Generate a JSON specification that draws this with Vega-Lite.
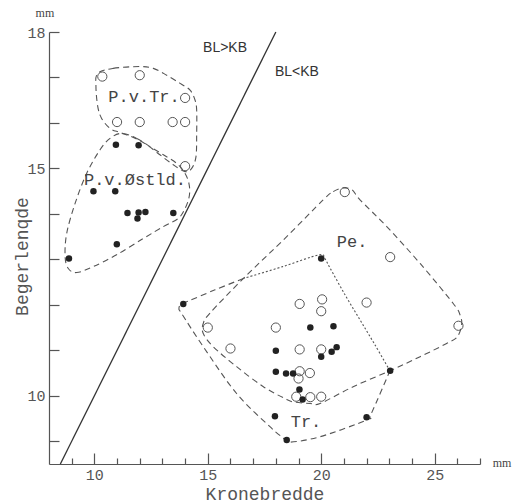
{
  "$schema": "https://vega.github.io/schema/vega-lite/v6.json",
  "width": 431,
  "height": 432,
  "autosize": "none",
  "padding": {"left": 49, "top": 32, "right": 45, "bottom": 39},
  "background": "white",
  "config": {"view": {"stroke": null}},
  "datasets": {
    "pts": [
      {"x": 10.35, "y": 17.02, "g": "open"}, {"x": 12.0, "y": 17.05, "g": "open"}, {"x": 14.0, "y": 16.55, "g": "open"},
      {"x": 11.0, "y": 16.02, "g": "open"}, {"x": 12.0, "y": 16.02, "g": "open"}, {"x": 13.45, "y": 16.02, "g": "open"},
      {"x": 14.0, "y": 16.02, "g": "open"}, {"x": 14.0, "y": 15.05, "g": "open"},
      {"x": 15.0, "y": 11.5, "g": "open"}, {"x": 16.0, "y": 11.04, "g": "open"}, {"x": 21.04, "y": 14.48, "g": "open"},
      {"x": 23.04, "y": 13.05, "g": "open"}, {"x": 19.05, "y": 12.02, "g": "open"}, {"x": 20.04, "y": 12.12, "g": "open"},
      {"x": 20.0, "y": 11.86, "g": "open"}, {"x": 22.0, "y": 12.05, "g": "open"}, {"x": 18.0, "y": 11.5, "g": "open"},
      {"x": 26.05, "y": 11.54, "g": "open"}, {"x": 19.05, "y": 11.02, "g": "open"}, {"x": 20.0, "y": 11.02, "g": "open"},
      {"x": 19.05, "y": 10.54, "g": "open"}, {"x": 19.0, "y": 10.38, "g": "open"}, {"x": 19.5, "y": 10.5, "g": "open"},
      {"x": 18.9, "y": 9.98, "g": "open"}, {"x": 19.52, "y": 9.97, "g": "open"}, {"x": 20.0, "y": 9.98, "g": "open"},
      {"x": 10.95, "y": 15.52, "g": "filled"}, {"x": 11.95, "y": 15.51, "g": "filled"}, {"x": 9.96, "y": 14.5, "g": "filled"},
      {"x": 10.92, "y": 14.5, "g": "filled"}, {"x": 11.46, "y": 14.02, "g": "filled"}, {"x": 11.9, "y": 13.9, "g": "filled"},
      {"x": 11.95, "y": 14.03, "g": "filled"}, {"x": 12.25, "y": 14.04, "g": "filled"}, {"x": 13.48, "y": 14.02, "g": "filled"},
      {"x": 10.99, "y": 13.33, "g": "filled"}, {"x": 8.88, "y": 13.02, "g": "filled"}, {"x": 13.92, "y": 12.02, "g": "filled"},
      {"x": 20.0, "y": 13.02, "g": "filled"}, {"x": 19.52, "y": 11.5, "g": "filled"}, {"x": 20.54, "y": 11.53, "g": "filled"},
      {"x": 18.0, "y": 10.99, "g": "filled"}, {"x": 20.0, "y": 10.86, "g": "filled"}, {"x": 20.46, "y": 10.97, "g": "filled"},
      {"x": 20.68, "y": 11.07, "g": "filled"}, {"x": 18.0, "y": 10.53, "g": "filled"}, {"x": 18.45, "y": 10.49, "g": "filled"},
      {"x": 18.76, "y": 10.49, "g": "filled"}, {"x": 23.04, "y": 10.55, "g": "filled"}, {"x": 19.04, "y": 10.14, "g": "filled"},
      {"x": 19.18, "y": 9.92, "g": "filled"}, {"x": 17.96, "y": 9.55, "g": "filled"}, {"x": 22.0, "y": 9.53, "g": "filled"},
      {"x": 18.48, "y": 9.03, "g": "filled"}
    ],
    "closed": [
      {"c": "ptr", "i": 0, "x": 10.15, "y": 17.09}, {"c": "ptr", "i": 1, "x": 10.83, "y": 17.2}, {"c": "ptr", "i": 2, "x": 12.01, "y": 17.24},
      {"c": "ptr", "i": 3, "x": 12.6, "y": 17.2}, {"c": "ptr", "i": 4, "x": 13.19, "y": 17.05}, {"c": "ptr", "i": 5, "x": 13.78, "y": 16.87},
      {"c": "ptr", "i": 6, "x": 14.22, "y": 16.72}, {"c": "ptr", "i": 7, "x": 14.44, "y": 16.5}, {"c": "ptr", "i": 8, "x": 14.51, "y": 16.28},
      {"c": "ptr", "i": 9, "x": 14.51, "y": 15.77}, {"c": "ptr", "i": 10, "x": 14.48, "y": 15.26}, {"c": "ptr", "i": 11, "x": 14.29, "y": 15.0},
      {"c": "ptr", "i": 12, "x": 14.0, "y": 14.93}, {"c": "ptr", "i": 13, "x": 13.48, "y": 15.08}, {"c": "ptr", "i": 14, "x": 12.89, "y": 15.3},
      {"c": "ptr", "i": 15, "x": 12.31, "y": 15.52}, {"c": "ptr", "i": 16, "x": 11.72, "y": 15.68}, {"c": "ptr", "i": 17, "x": 11.13, "y": 15.79},
      {"c": "ptr", "i": 18, "x": 10.69, "y": 15.88}, {"c": "ptr", "i": 19, "x": 10.32, "y": 16.1}, {"c": "ptr", "i": 20, "x": 10.15, "y": 16.36},
      {"c": "ptr", "i": 21, "x": 10.07, "y": 16.8},
      {"c": "ost", "i": 0, "x": 11.2, "y": 15.77}, {"c": "ost", "i": 1, "x": 11.87, "y": 15.66}, {"c": "ost", "i": 2, "x": 12.45, "y": 15.48},
      {"c": "ost", "i": 3, "x": 13.04, "y": 15.3}, {"c": "ost", "i": 4, "x": 13.63, "y": 15.11}, {"c": "ost", "i": 5, "x": 14.0, "y": 14.89},
      {"c": "ost", "i": 6, "x": 14.18, "y": 14.64}, {"c": "ost", "i": 7, "x": 14.18, "y": 14.38}, {"c": "ost", "i": 8, "x": 14.0, "y": 14.12},
      {"c": "ost", "i": 9, "x": 13.7, "y": 13.9}, {"c": "ost", "i": 10, "x": 13.04, "y": 13.72}, {"c": "ost", "i": 11, "x": 12.16, "y": 13.46},
      {"c": "ost", "i": 12, "x": 10.98, "y": 13.1}, {"c": "ost", "i": 13, "x": 9.95, "y": 12.84}, {"c": "ost", "i": 14, "x": 9.22, "y": 12.71},
      {"c": "ost", "i": 15, "x": 8.85, "y": 12.8}, {"c": "ost", "i": 16, "x": 8.71, "y": 13.06}, {"c": "ost", "i": 17, "x": 8.78, "y": 13.57},
      {"c": "ost", "i": 18, "x": 9.15, "y": 14.23}, {"c": "ost", "i": 19, "x": 9.66, "y": 14.89}, {"c": "ost", "i": 20, "x": 10.25, "y": 15.41},
      {"c": "ost", "i": 21, "x": 10.69, "y": 15.66},
      {"c": "pe", "i": 0, "x": 20.09, "y": 14.31}, {"c": "pe", "i": 1, "x": 20.53, "y": 14.49}, {"c": "pe", "i": 2, "x": 20.96, "y": 14.57},
      {"c": "pe", "i": 3, "x": 21.36, "y": 14.53}, {"c": "pe", "i": 4, "x": 21.71, "y": 14.31}, {"c": "pe", "i": 5, "x": 22.89, "y": 13.72},
      {"c": "pe", "i": 6, "x": 24.36, "y": 12.91}, {"c": "pe", "i": 7, "x": 25.82, "y": 12.03}, {"c": "pe", "i": 8, "x": 26.12, "y": 11.78},
      {"c": "pe", "i": 9, "x": 26.19, "y": 11.56}, {"c": "pe", "i": 10, "x": 25.99, "y": 11.29}, {"c": "pe", "i": 11, "x": 25.53, "y": 11.15},
      {"c": "pe", "i": 12, "x": 24.36, "y": 10.86}, {"c": "pe", "i": 13, "x": 23.03, "y": 10.55}, {"c": "pe", "i": 14, "x": 21.41, "y": 10.2},
      {"c": "pe", "i": 15, "x": 19.95, "y": 9.83}, {"c": "pe", "i": 16, "x": 19.51, "y": 9.83}, {"c": "pe", "i": 17, "x": 18.84, "y": 9.86},
      {"c": "pe", "i": 18, "x": 18.48, "y": 9.92}, {"c": "pe", "i": 19, "x": 17.45, "y": 10.2}, {"c": "pe", "i": 20, "x": 16.27, "y": 10.64},
      {"c": "pe", "i": 21, "x": 15.24, "y": 11.08}, {"c": "pe", "i": 22, "x": 14.8, "y": 11.37}, {"c": "pe", "i": 23, "x": 14.8, "y": 11.59},
      {"c": "pe", "i": 24, "x": 15.1, "y": 11.82}, {"c": "pe", "i": 25, "x": 16.57, "y": 12.58}, {"c": "pe", "i": 26, "x": 18.48, "y": 13.5}
    ],
    "trdash": [
      {"i": 0, "x": 16.57, "y": 12.58}, {"i": 1, "x": 15.32, "y": 12.33}, {"i": 2, "x": 14.13, "y": 12.08},
      {"i": 3, "x": 13.82, "y": 12.02}, {"i": 4, "x": 13.73, "y": 11.91}, {"i": 5, "x": 13.86, "y": 11.8},
      {"i": 6, "x": 14.8, "y": 11.08}, {"i": 7, "x": 16.27, "y": 10.05}, {"i": 8, "x": 17.74, "y": 9.32},
      {"i": 9, "x": 18.33, "y": 9.07}, {"i": 10, "x": 18.58, "y": 8.98}, {"i": 11, "x": 19.95, "y": 9.1},
      {"i": 12, "x": 22.01, "y": 9.47}, {"i": 13, "x": 22.2, "y": 9.6}, {"i": 14, "x": 23.03, "y": 10.55}
    ],
    "trdot": [
      {"i": 0, "x": 23.03, "y": 10.55}, {"i": 1, "x": 22.37, "y": 11.12}, {"i": 2, "x": 21.71, "y": 11.67},
      {"i": 3, "x": 21.05, "y": 12.22}, {"i": 4, "x": 20.39, "y": 12.81}, {"i": 5, "x": 20.15, "y": 13.02},
      {"i": 6, "x": 19.9, "y": 13.1}, {"i": 7, "x": 18.3, "y": 12.84}, {"i": 8, "x": 16.57, "y": 12.58}
    ],
    "diag": [{"i": 0, "x": 8.5, "y": 8.5}, {"i": 1, "x": 18, "y": 18}],
    "mono": [
      {"x": 12.19, "y": 16.57, "t": "P.v.Tr."}, {"x": 11.79, "y": 14.75, "t": "P.v.Østld."},
      {"x": 21.36, "y": 13.38, "t": "Pe."}, {"x": 19.33, "y": 9.42, "t": "Tr."}
    ],
    "sans": [{"x": 15.76, "y": 17.65, "t": "BL>KB"}, {"x": 18.93, "y": 17.12, "t": "BL<KB"}],
    "serif": [{"x": 7.82, "y": 18.42, "t": "mm"}, {"x": 27.97, "y": 8.52, "t": "mm"}]
  },
  "encoding": {
    "x": {
      "field": "x", "type": "quantitative",
      "scale": {"domain": [8, 27], "nice": false, "zero": false},
      "axis": {
        "title": "Kronebredde",
        "values": [9, 10, 11, 12, 13, 14, 15, 16, 17, 18, 19, 20, 21, 22, 23, 24, 25, 26, 27],
        "labelExpr": "datum.value % 5 === 0 ? datum.label : ''",
        "tickSize": {"condition": {"test": "datum.value % 5 === 0", "value": -11}, "value": -6},
        "labelPadding": 14,
        "labelFlush": false, "labelOverlap": false,
        "labelFont": "Liberation Mono", "labelFontSize": 15, "labelColor": "#555",
        "domainColor": "#555", "tickColor": "#555", "domainWidth": 1.2, "tickWidth": 1.2, "grid": false,
        "titleFont": "Liberation Mono", "titleFontSize": 18, "titleFontWeight": "normal", "titleColor": "#555",
        "titleY": 30, "titleBaseline": "middle"
      }
    },
    "y": {
      "field": "y", "type": "quantitative",
      "scale": {"domain": [8.5, 18], "nice": false, "zero": false},
      "axis": {
        "title": "Begerlenqde",
        "values": [9, 10, 11, 12, 13, 14, 15, 16, 17, 18],
        "labelExpr": "(datum.value === 10 || datum.value === 15 || datum.value === 18) ? datum.label : ''",
        "tickSize": -10,
        "labelPadding": 14,
        "labelFlush": false, "labelOverlap": false,
        "labelFont": "Liberation Mono", "labelFontSize": 15, "labelColor": "#555",
        "domainColor": "#555", "tickColor": "#555", "domainWidth": 1.2, "tickWidth": 1.2, "grid": false,
        "titleFont": "Liberation Mono", "titleFontSize": 18, "titleFontWeight": "normal", "titleColor": "#555",
        "titleX": -27, "titleY": 224, "titleBaseline": "middle", "titleAlign": "center", "titleAngle": -90
      }
    }
  },
  "layer": [
    {
      "data": {"name": "closed"},
      "mark": {"type": "line", "interpolate": "cardinal-closed", "stroke": "#555", "strokeWidth": 1.1, "strokeDash": [6, 4]},
      "encoding": {"detail": {"field": "c"}, "order": {"field": "i", "type": "quantitative"}}
    },
    {
      "data": {"name": "trdash"},
      "mark": {"type": "line", "interpolate": "cardinal", "stroke": "#555", "strokeWidth": 1.1, "strokeDash": [6, 4]},
      "encoding": {"order": {"field": "i", "type": "quantitative"}}
    },
    {
      "data": {"name": "trdot"},
      "mark": {"type": "line", "interpolate": "cardinal", "stroke": "#555", "strokeWidth": 1.1, "strokeDash": [2, 2]},
      "encoding": {"order": {"field": "i", "type": "quantitative"}}
    },
    {
      "data": {"name": "diag"},
      "mark": {"type": "line", "stroke": "#333", "strokeWidth": 1.3},
      "encoding": {"order": {"field": "i", "type": "quantitative"}}
    },
    {
      "data": {"name": "pts"},
      "transform": [{"filter": "datum.g === 'open'"}],
      "mark": {"type": "point", "shape": "circle", "filled": false, "size": 85, "stroke": "#555", "strokeWidth": 1, "opacity": 1}
    },
    {
      "data": {"name": "pts"},
      "transform": [{"filter": "datum.g === 'filled'"}],
      "mark": {"type": "circle", "size": 42, "color": "#222", "opacity": 1}
    },
    {
      "data": {"name": "mono"},
      "mark": {"type": "text", "font": "Liberation Mono", "fontSize": 17, "color": "#444", "align": "center", "baseline": "middle"},
      "encoding": {"text": {"field": "t"}}
    },
    {
      "data": {"name": "sans"},
      "mark": {"type": "text", "font": "Liberation Sans", "fontSize": 14, "color": "#333", "align": "center", "baseline": "middle"},
      "encoding": {"text": {"field": "t"}}
    },
    {
      "data": {"name": "serif"},
      "mark": {"type": "text", "font": "Liberation Serif", "fontSize": 12, "color": "#444", "align": "center", "baseline": "middle"},
      "encoding": {"text": {"field": "t"}}
    }
  ]
}
